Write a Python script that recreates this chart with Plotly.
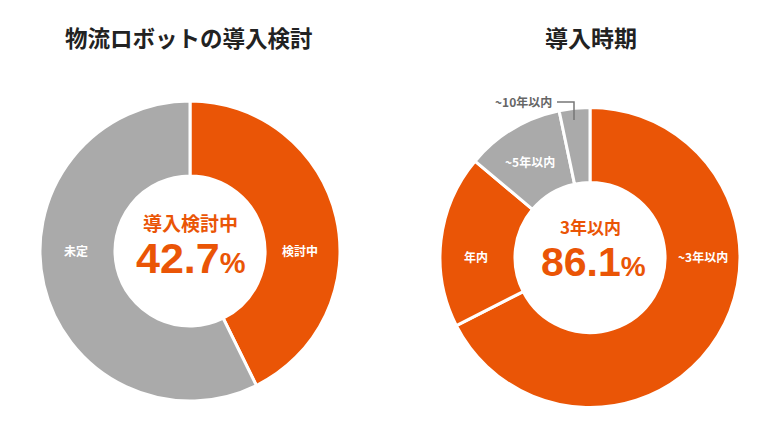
import plotly.graph_objects as go

# page body has an 8px margin, so the figure is drawn 8px in from the window edge
OFF = 8
W, H = 780 - OFF, 440 - OFF

# ---- data ----
left_title = "物流ロボットの導入検討"
left_labels = ["検討中", "未定"]
left_values = [42.7, 57.3]
left_center_label = "導入検討中"
left_center_value = "42.7"

right_title = "導入時期"
right_labels = ["~3年以内", "年内", "~5年以内", "~10年以内"]
right_values = [67.5, 18.6, 10.6, 3.3]
right_center_label = "3年以内"
right_center_value = "86.1"

ORANGE = "#EA5506"
GRAY = "#AAAAAA"
left_colors = [ORANGE, GRAY]
right_colors = [ORANGE, ORANGE, GRAY, GRAY]

JP = "Noto Sans CJK JP"
NUM = "Liberation Sans"


def px(x):
    return (x - OFF) / W


def py(y):
    return 1 - (y - OFF) / H


fig = go.Figure()

fig.add_trace(go.Pie(
    labels=left_labels, values=left_values, hole=0.5, sort=False,
    direction="clockwise", rotation=0,
    marker=dict(colors=left_colors, line=dict(color="white", width=3)),
    textinfo="none", hoverinfo="label+value", showlegend=False,
    domain=dict(x=[px(40), px(340)], y=[py(402), py(100)]),
))

fig.add_trace(go.Pie(
    labels=right_labels, values=right_values, hole=0.5, sort=False,
    direction="clockwise", rotation=0,
    marker=dict(colors=right_colors, line=dict(color="white", width=3)),
    textinfo="none", hoverinfo="label+value", showlegend=False,
    domain=dict(x=[px(440), px(740)], y=[py(408), py(107)]),
))

ann = []


def add_text(x, y, text, size, color, family=JP):
    ann.append(dict(x=px(x), y=py(y), xref="paper", yref="paper", text=text,
                    showarrow=False, xanchor="center", yanchor="middle",
                    font=dict(size=size, color=color, family=family)))


# titles
add_text(189, 37, "<b>" + left_title + "</b>", 22.5, "#222222")
add_text(591, 37, "<b>" + right_title + "</b>", 23, "#222222")

# slice labels
add_text(300, 250, "<b>" + left_labels[0] + "</b>", 12, "white")
add_text(76, 250, "<b>" + left_labels[1] + "</b>", 12, "white")
add_text(703, 256, "<b>" + right_labels[0] + "</b>", 12, "white")
add_text(476, 256, "<b>" + right_labels[1] + "</b>", 12, "white")
add_text(530, 162, "<b>" + right_labels[2] + "</b>", 12, "white")
add_text(523, 101, "<b>" + right_labels[3] + "</b>", 12, "#666666")

# center texts
add_text(190, 222, "<b>" + left_center_label + "</b>", 19, ORANGE)
add_text(191, 258, "<b>" + left_center_value + "<span style='font-size:29px'>%</span></b>", 43, ORANGE, NUM)
add_text(590, 226, "<b>" + right_center_label + "</b>", 17, ORANGE)
add_text(593, 262, "<b>" + right_center_value + "<span style='font-size:28px'>%</span></b>", 41, ORANGE, NUM)

shapes = [
    dict(type="path", xref="paper", yref="paper",
         path=f"M {px(557)},{py(102)} L {px(574)},{py(102)} L {px(574)},{py(120)}",
         line=dict(color="#777777", width=1.5)),
]

fig.update_layout(
    width=W, height=H, margin=dict(l=0, r=0, t=0, b=0),
    paper_bgcolor="white", plot_bgcolor="white",
    annotations=ann, shapes=shapes,
    font=dict(family=JP),
)

fig.write_html("out.html")
